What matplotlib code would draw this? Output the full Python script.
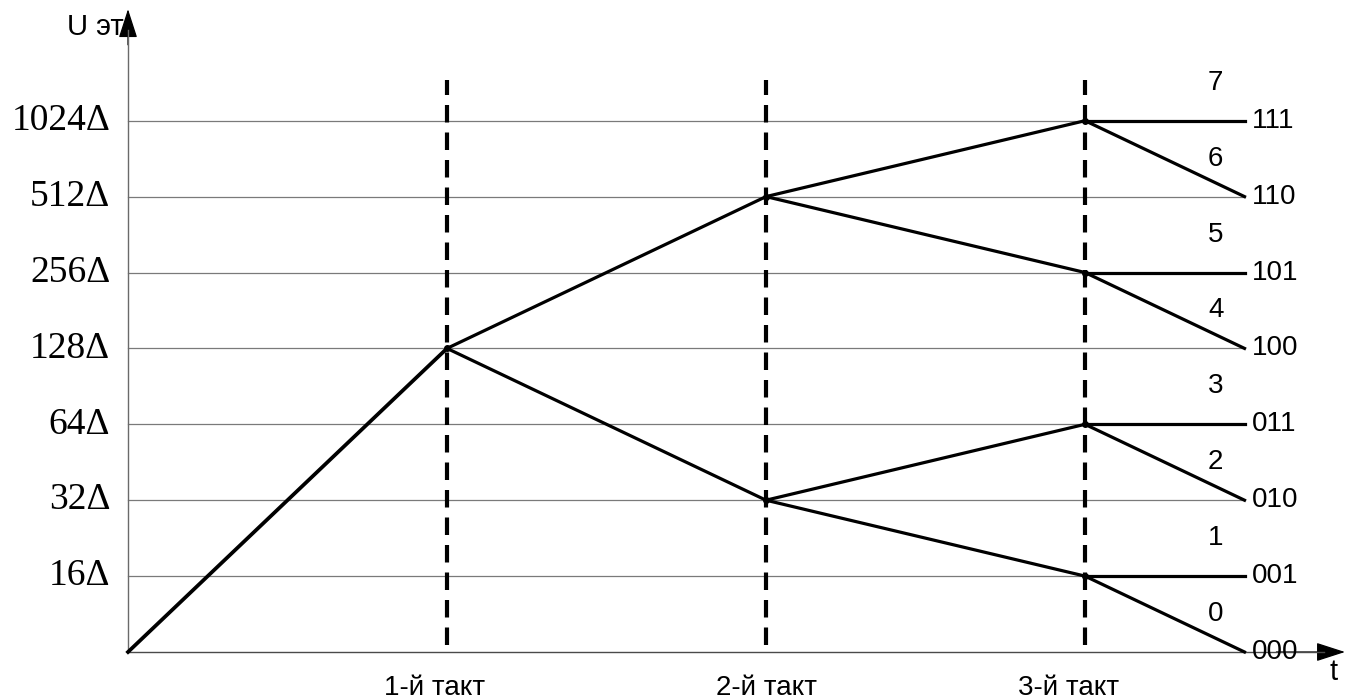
import matplotlib
matplotlib.use('Agg')
import matplotlib.pyplot as plt

# ---------------------------------------------------------------------------
# Data (levels are indexed 0..7: 0, 16Δ, 32Δ, ... 1024Δ)
# ---------------------------------------------------------------------------
level_idx = [1, 2, 3, 4, 5, 6, 7]
level_labels = ['16Δ', '32Δ', '64Δ', '128Δ', '256Δ', '512Δ', '1024Δ']

tact_x = [1, 2, 3]
tact_labels = ['1-й такт', '2-й такт', '3-й такт']
tact_label_x = [0.96, 2.0, 2.95]

# comparison level reached after each tact (binary search tree)
tact1_levels = [4]
tact2_levels = [6, 2]
tact3_levels = [7, 5, 3, 1]
end_x = 3.5

code_levels = [0, 1, 2, 3, 4, 5, 6, 7]
code_labels = ['000', '001', '010', '011', '100', '101', '110', '111']
zone_labels = ['0', '1', '2', '3', '4', '5', '6', '7']

# ---------------------------------------------------------------------------
# Figure
# ---------------------------------------------------------------------------
fig = plt.figure(figsize=(13.48, 7.0), dpi=100)
ax = fig.add_axes([0, 0, 1, 1])
ax.set_xlim(-128 / 319, 1220 / 319)
ax.set_ylim(-48 / 75.9, 652 / 75.9)
ax.axis('off')

sans = 'Liberation Sans'
serif = 'Liberation Serif'

# grid lines and left labels
for lv, lab in zip(level_idx, level_labels):
    ax.plot([0, end_x], [lv, lv], color='#7a7a7a', lw=0.9, zorder=1)
    ax.text(-0.056, lv, lab, ha='right', va='center', fontsize=27,
            family=serif, color='black')

# axes with arrows
arrow = dict(arrowstyle='-|>,head_length=1.3,head_width=0.42',
             color='black', lw=0.9, shrinkA=0, shrinkB=0, mutation_scale=14)
ax.annotate('', xy=(0, 8.47), xytext=(0, 8.0), arrowprops=arrow, zorder=2,
            annotation_clip=False)
ax.plot([0, 0], [0, 8.2], color='#6a6a6a', lw=1.0, zorder=2)
ax.annotate('', xy=(3.815, 0), xytext=(3.6, 0), arrowprops=arrow, zorder=2,
            annotation_clip=False)
ax.plot([0, 3.75], [0, 0], color='#4a4a4a', lw=1.0, zorder=2)
ax.text(-0.014, 8.24, 'U эт', ha='right', va='center', fontsize=21,
        family=sans)
ax.text(3.78, -0.27, 't', ha='center', va='center', fontsize=21,
        family=sans)

# dashed tact lines and labels
for tx, lab, lx in zip(tact_x, tact_labels, tact_label_x):
    ax.plot([tx, tx], [0.09, 7.54], color='black', lw=3,
            linestyle=(0, (4.2, 2.4)), zorder=3)
    ax.text(lx, -0.48, lab, ha='center', va='center', fontsize=20,
            family=sans)

# search tree
lw = 2.3
ax.plot([0, tact_x[0]], [0, tact1_levels[0]], color='black', lw=lw + 0.4,
        zorder=4)
for lv in tact2_levels:
    parent = tact1_levels[0]
    ax.plot([tact_x[0], tact_x[1]], [parent, lv], color='black', lw=lw,
            zorder=4)
for i, lv in enumerate(tact3_levels):
    parent = tact2_levels[i // 2]
    ax.plot([tact_x[1], tact_x[2]], [parent, lv], color='black', lw=lw,
            zorder=4)
    # last step: keep level (bit 1) or fall one level (bit 0)
    ax.plot([tact_x[2], end_x], [lv, lv], color='black', lw=lw, zorder=4)
    ax.plot([tact_x[2], end_x], [lv, lv - 1], color='black', lw=lw, zorder=4)

nodes_x = [tact_x[0]] * len(tact1_levels) + [tact_x[1]] * len(tact2_levels) \
    + [tact_x[2]] * len(tact3_levels)
nodes_y = tact1_levels + tact2_levels + tact3_levels
ax.plot(nodes_x, nodes_y, 'o', color='black', ms=4, zorder=5)

# code labels and zone numbers
for lv, code, zone in zip(code_levels, code_labels, zone_labels):
    ax.text(3.524, lv, code, ha='left', va='center', fontsize=20,
            family=sans)
    ax.text(3.41, lv + 0.5, zone, ha='center', va='center', fontsize=20,
            family=sans)

fig.savefig('out.png', dpi=100)
